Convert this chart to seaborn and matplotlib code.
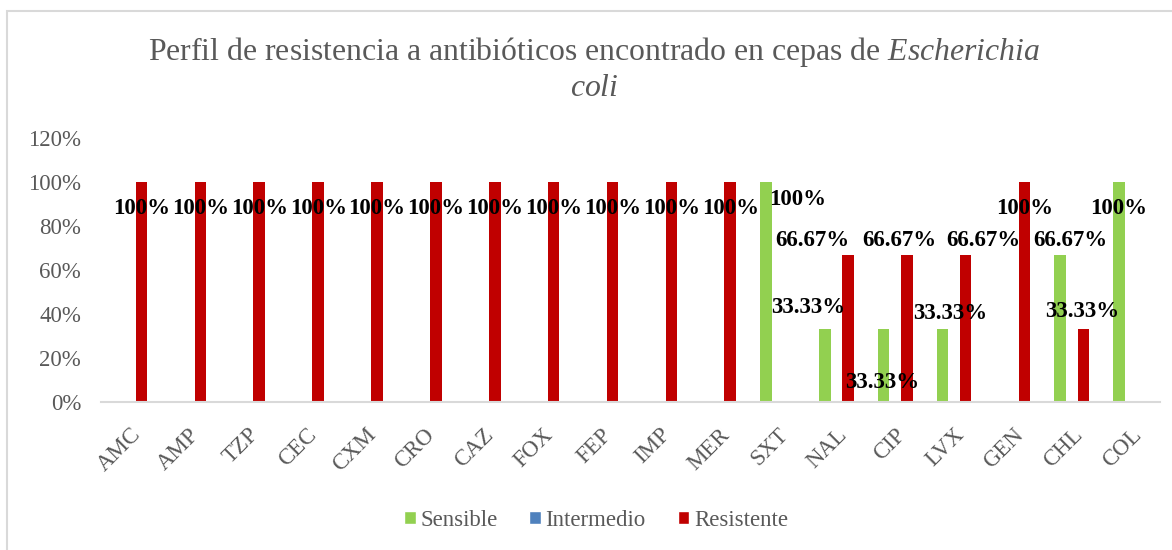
import matplotlib
matplotlib.use('Agg')
import pandas as pd
import matplotlib.pyplot as plt
import seaborn as sns
from matplotlib.patches import Patch, Rectangle
from matplotlib.ticker import PercentFormatter

# Datos (porcentaje de cepas)
antibioticos = ['AMC', 'AMP', 'TZP', 'CEC', 'CXM', 'CRO', 'CAZ', 'FOX', 'FEP',
                'IMP', 'MER', 'SXT', 'NAL', 'CIP', 'LVX', 'GEN', 'CHL', 'COL']
sensible = [0, 0, 0, 0, 0, 0, 0, 0, 0, 0, 0, 100, 33.33, 33.33, 33.33, 0, 66.67, 100]
intermedio = [0] * 18
resistente = [100, 100, 100, 100, 100, 100, 100, 100, 100, 100, 100, 0,
              66.67, 66.67, 66.67, 100, 33.33, 0]
perfiles = ['Sensible', 'Intermedio', 'Resistente']
colores = {'Sensible': '#92d050', 'Intermedio': '#4f81bd', 'Resistente': '#c00000'}

# Desplazamiento (px) de algunas etiquetas, movidas a mano en el original
etiqueta_default = (0, -26)
etiqueta_offsets = {
    ('SXT', 'Sensible'): (32, -17),
    ('NAL', 'Sensible'): (-17, 21),
    ('NAL', 'Resistente'): (-36, 15),
    ('CIP', 'Sensible'): (-1, -54),
    ('CIP', 'Resistente'): (-7, 15),
    ('LVX', 'Sensible'): (8, 15),
    ('LVX', 'Resistente'): (18, 15),
    ('CHL', 'Sensible'): (10, 15),
    ('CHL', 'Resistente'): (-1, 17),
}

df = pd.DataFrame({
    'Antibiótico': antibioticos * 3,
    'Perfil': ['Sensible'] * 18 + ['Intermedio'] * 18 + ['Resistente'] * 18,
    'Porcentaje': sensible + intermedio + resistente,
})

sns.set_style('white')
plt.rcParams['font.family'] = ['Liberation Serif', 'DejaVu Serif']
plt.rcParams['mathtext.fontset'] = 'custom'
plt.rcParams['mathtext.rm'] = 'Liberation Serif'
plt.rcParams['mathtext.it'] = 'Liberation Serif:italic'
gris = '#595959'

fig = plt.figure(figsize=(11.72, 5.5), dpi=100)
ax = fig.add_axes([0.0858, 0.269, 0.904, 0.48])

sns.barplot(data=df, x='Antibiótico', y='Porcentaje', hue='Perfil',
            hue_order=perfiles, palette=colores, width=0.59, linewidth=0,
            saturation=1, legend=False, ax=ax)

# Etiquetas de datos
for cont, perfil in zip(ax.containers, perfiles):
    for bar, ab in zip(cont, antibioticos):
        h = bar.get_height()
        if h == 0:
            continue
        txt = f'{h:.0f}%' if h == int(h) else f'{h:.2f}%'
        dx, dy = etiqueta_offsets.get((ab, perfil), etiqueta_default)
        ax.annotate(txt, xy=(bar.get_x() + bar.get_width() / 2, h),
                    xytext=(dx, dy), textcoords='offset pixels',
                    ha='center', va='center', fontsize=16.5,
                    fontweight='bold', color='black')

ax.set_ylim(0, 120)
ax.set_yticks(range(0, 121, 20))
ax.yaxis.set_major_formatter(PercentFormatter(100, decimals=0))
ax.set_xlabel('')
ax.set_ylabel('')
for s in ['top', 'right', 'left']:
    ax.spines[s].set_visible(False)
ax.spines['bottom'].set_color('#d9d9d9')
ax.spines['bottom'].set_linewidth(1.5)
ax.tick_params(axis='y', length=0, pad=14, labelsize=16.5, labelcolor=gris)
ax.tick_params(axis='x', length=0, pad=16, labelsize=16.5, labelcolor=gris)
for lab in ax.get_xticklabels():
    lab.set_rotation(45)
    lab.set_ha('right')
    lab.set_rotation_mode('anchor')

# Título con nombre científico en cursiva
fig.text(0.507, 1 - 69 / 550,
         'Perfil de resistencia a antibióticos encontrado en cepas de $\\mathit{Escherichia}$\n$\\mathit{coli}$',
         ha='center', va='center', multialignment='center', fontsize=22.9,
         color=gris, linespacing=1.2)

handles = [Patch(facecolor=colores[p], label=p) for p in perfiles]
leg = fig.legend(handles=handles, loc='center', bbox_to_anchor=(596 / 1172, 1 - 520 / 550),
                 ncol=3, frameon=False, fontsize=16.5, handlelength=0.5,
                 handleheight=0.5, handletextpad=0.2, columnspacing=1.4)
for t in leg.get_texts():
    t.set_color(gris)

# Marco del área del gráfico
fig.patches.append(Rectangle((7 / 1172, -0.05), 1.2, 1 - 11 / 550 + 0.05,
                             transform=fig.transFigure, fill=False,
                             edgecolor='#d9d9d9', linewidth=1.5))

fig.savefig('out.png', dpi=100)
